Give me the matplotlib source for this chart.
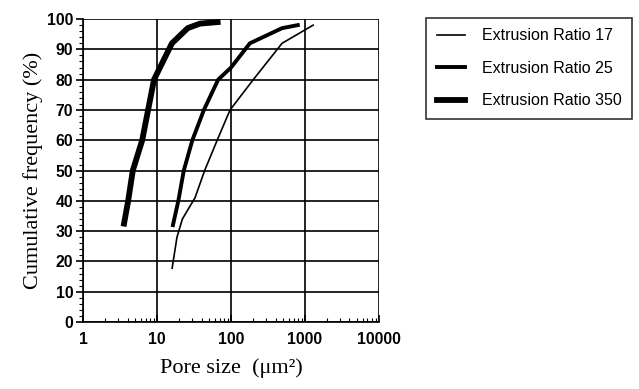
import matplotlib.pyplot as plt
from matplotlib.ticker import LogLocator, MultipleLocator, FixedLocator

# Data
er17_x = [16, 18.6, 22, 26, 32.6, 44, 65, 97, 200, 490, 1290]
er17_y = [17.8, 28, 34, 37, 41, 50, 60, 70, 80, 92, 98]

er25_x = [16.4, 19.4, 23, 30, 43, 67, 100, 180, 490, 800]
er25_y = [32, 40, 50, 60, 70, 80, 84, 92, 97, 98]

er350_x = [3.58, 4.07, 4.7, 6.3, 9.1, 15.9, 26, 38, 66]
er350_y = [32.5, 40, 50, 60, 80, 92, 97, 98.5, 99]

labels = ['Extrusion Ratio 17', 'Extrusion Ratio 25', 'Extrusion Ratio 350']
x_ticks = [1, 10, 100, 1000, 10000]
y_ticks = list(range(0, 101, 10))

fig = plt.figure(figsize=(6.39, 3.89), dpi=100)
ax = fig.add_axes([0.130, 0.172, 0.463, 0.779])

ax.plot(er17_x, er17_y, color='black', lw=1.2, label=labels[0])
ax.plot(er25_x, er25_y, color='black', lw=2.8, label=labels[1])
ax.plot(er350_x, er350_y, color='black', lw=4.2, label=labels[2])

ax.set_xscale('log')
ax.set_xlim(1, 10000)
ax.set_ylim(0, 100)
ax.xaxis.set_major_locator(FixedLocator(x_ticks))
ax.xaxis.set_minor_locator(LogLocator(base=10, subs=range(2, 10)))
ax.set_xticklabels([str(t) for t in x_ticks])
ax.yaxis.set_major_locator(FixedLocator(y_ticks))
ax.yaxis.set_minor_locator(MultipleLocator(2))

ax.grid(which='major', color='black', lw=1.2)
for s in ['top', 'right']:
    ax.spines[s].set_visible(False)
for s in ['left', 'bottom']:
    ax.spines[s].set_linewidth(1.2)

ax.tick_params(axis='x', which='major', direction='in', length=5, width=1.2, pad=7)
ax.tick_params(axis='x', which='minor', direction='in', length=3, width=0.8)
ax.tick_params(axis='y', which='major', direction='out', length=5, width=1.2, pad=2)
ax.tick_params(axis='y', which='minor', direction='out', length=3, width=0.8)
for lab in ax.get_xticklabels() + ax.get_yticklabels():
    lab.set_fontfamily('Liberation Sans')
    lab.set_fontsize(11.3)
    lab.set_fontweight('bold')

ax.set_xlabel('Pore size  (\u03bcm\u00b2)', family='Liberation Serif', fontsize=16, labelpad=8)
ax.set_ylabel('Cumulative frequency (%)', family='Liberation Serif', fontsize=16, labelpad=3)

leg = fig.legend(loc='upper left', bbox_to_anchor=(0.667, 0.954), frameon=True,
                 borderaxespad=0, prop={'family': 'Liberation Sans', 'size': 11.5},
                 handlelength=1.8, labelspacing=1.1, borderpad=0.65,
                 handletextpad=1.05, fancybox=False)
leg.get_frame().set_edgecolor('black')
leg.get_frame().set_linewidth(1.2)

fig.savefig('out.png', dpi=100)
